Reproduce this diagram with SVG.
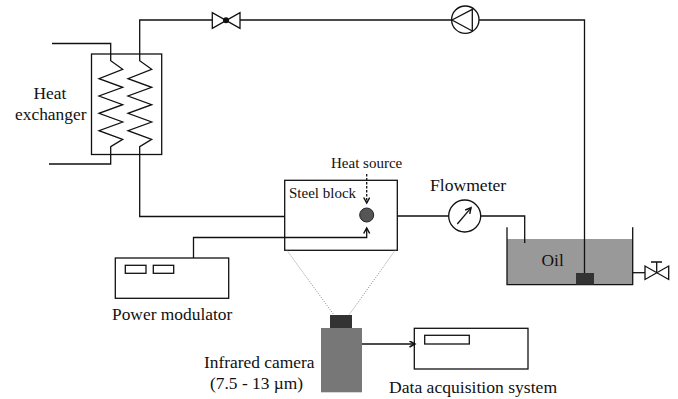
<svg xmlns="http://www.w3.org/2000/svg" width="678" height="399" viewBox="0 0 678 399">
<style>
.l{fill:none;stroke:#111;stroke-width:1.3}
.b{fill:#fff;stroke:#111;stroke-width:1.3}
.d{fill:none;stroke:#888;stroke-width:1;stroke-dasharray:1 1.5}
text{font-family:"Liberation Serif","Times New Roman",serif;fill:#111;font-size:17.4px}
.s{font-size:15px}
.w{font-size:17.6px}
</style>
<defs>
<marker id="a" markerWidth="8" markerHeight="8" refX="6" refY="3.5" orient="auto" markerUnits="userSpaceOnUse"><path d="M0.5 0.5L6 3.5L0.5 6.5" fill="none" stroke="#111" stroke-width="1.5"/></marker>
</defs>
<g id="heat-exchanger">
<rect class="b" x="91.5" y="54" width="70.2" height="100.5"/>
<path class="l" d="M110.7 54V60.7L122.7 69.3L99 78.7L122.7 87.3L99 96L122.7 104.7L99 113.3L122.7 122L99 130.7L122.7 139.3L110.7 146.7V154.5"/>
<path class="l" d="M139.7 54V60.7L151.7 69.3L128 78.7L151.7 87.3L128 96L151.7 104.7L128 113.3L151.7 122L128 130.7L151.7 139.3L139.7 146.7V154.5"/>
<text x="33.5" y="99">Heat</text>
<text x="15" y="119.5">exchanger</text>
</g>
<g id="valve-top">
<path class="l" d="M212.3 12.7V28.3L240 12.7V28.3Z"/>
<circle cx="226" cy="20.3" r="3" fill="#111"/>
</g>
<g id="pump">
<circle class="b" cx="465.3" cy="19.7" r="13.7"/>
<path class="l" d="M452 20L472.3 9.3V31Z"/>
</g>
<g id="steel-block">
<rect class="b" x="284.7" y="180.3" width="112.6" height="70"/>
<circle cx="366.7" cy="215" r="7" fill="#555" stroke="#222"/>
<text class="s" x="289" y="197.5">Steel block</text>
<text class="s" x="331" y="167.5">Heat source</text>
</g>
<g id="flowmeter">
<circle class="b" cx="464.7" cy="216" r="16"/>
<path class="l" d="M457.3 224L471 207.8" marker-end="url(#a)"/>
<text class="w" x="430" y="190.7">Flowmeter</text>
</g>
<g id="oil-tank">
<rect x="507" y="239" width="125.7" height="45.7" fill="#999"/>
<path class="l" d="M507 227.3V284.7H632.7V227.3"/>
<rect x="576" y="273" width="18" height="11.5" fill="#333"/>
<text x="541.5" y="265.7">Oil</text>
</g>
<g id="valve-drain">
<path class="l" d="M632.7 272.7H645" stroke="#777"/>
<path class="l" d="M645 266V279.5L668.7 266V279.5Z"/>
<path class="l" d="M656.7 272.7V262M651 262H662"/>
</g>
<g id="power-modulator">
<rect class="b" x="115.3" y="258" width="113.4" height="40.3"/>
<rect class="b" x="125.3" y="265.3" width="20.7" height="8"/>
<rect class="b" x="153.3" y="265.3" width="20.4" height="8"/>
<text x="112" y="319.5">Power modulator</text>
</g>
<g id="infrared-camera">
<rect x="321" y="328" width="41" height="64.3" fill="#777"/>
<rect x="330" y="315" width="22" height="13" fill="#333"/>
<text x="204" y="368">Infrared camera</text>
<text x="210" y="388.5">(7.5 - 13 µm)</text>
</g>
<g id="data-acquisition">
<rect class="b" x="414.3" y="328.3" width="113.7" height="40.7"/>
<rect class="b" x="424.7" y="335.3" width="44.6" height="8.7"/>
<text class="w" x="389" y="392.7">Data acquisition system</text>
</g>
<g id="connectors">
<path class="l" d="M139.7 54V20H212.3M240 20H451.7"/>
<path class="l" d="M479 20H584.5V273"/>
<path class="l" d="M52 43.5H110.7V54"/>
<path class="l" d="M49 164H110.7V154.5"/>
<path class="l" d="M139.7 154.5V216.5H285"/>
<path class="l" d="M193.5 258V237.5H366.7V228" marker-end="url(#a)"/>
<path class="l" d="M366.7 174V203" stroke-dasharray="2.5 1.5" marker-end="url(#a)"/>
<path class="l" d="M397.3 216H448.7M481 216H524.7V243"/>
<path class="l" d="M362 344H415" marker-end="url(#a)"/>
<path class="d" d="M287 250.5L334 315M395 250.5L349 315"/>
</g>
</svg>
